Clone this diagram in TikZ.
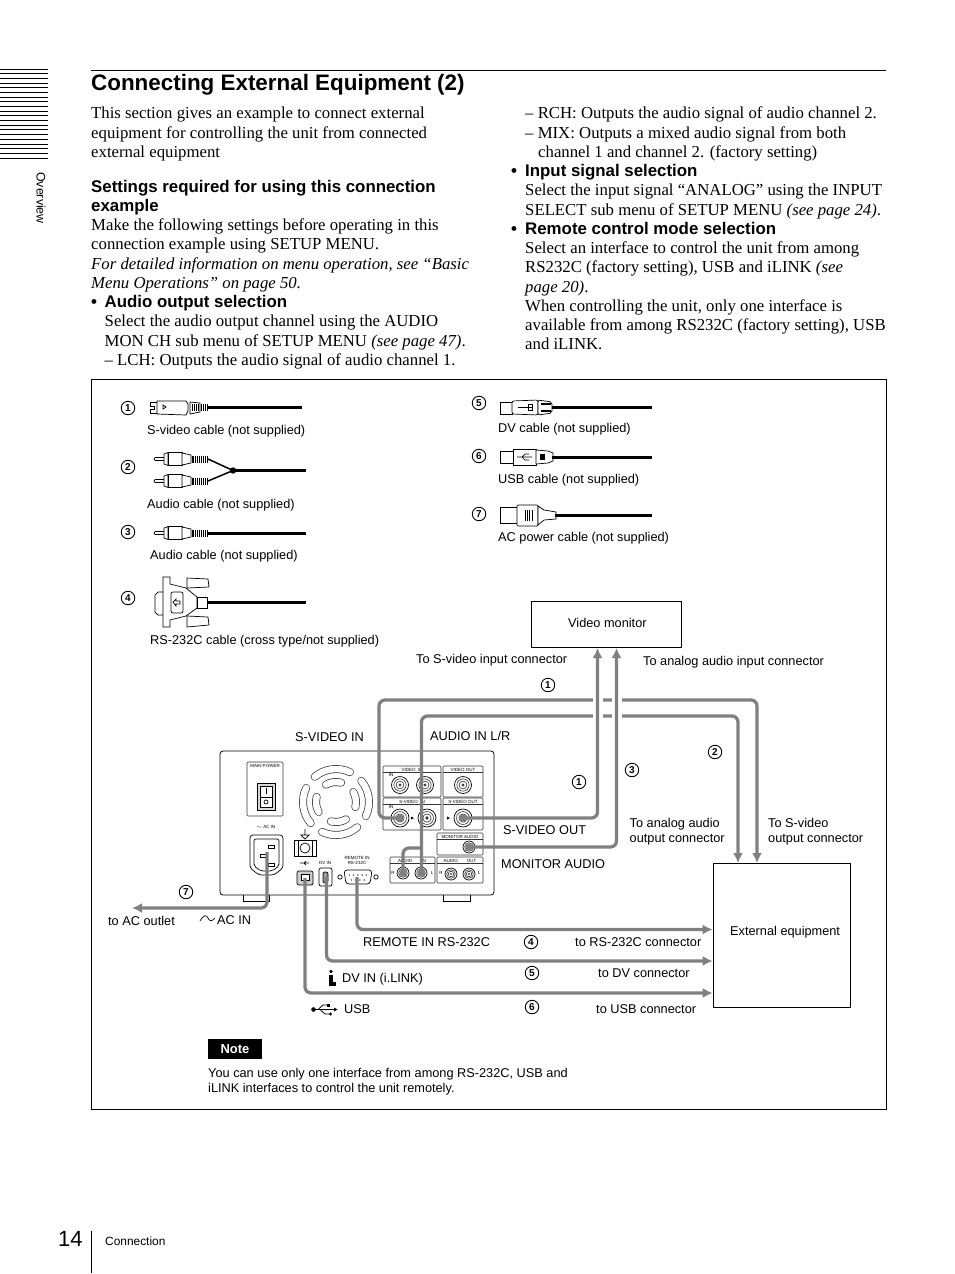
\documentclass[tikz,border=0pt]{standalone}
\usepackage{fontspec}
\setmainfont{Liberation Serif}
\setsansfont{Liberation Sans}
\usetikzlibrary{arrows.meta,positioning,shapes.geometric}
\newcommand{\labfont}{\sffamily\fontsize{12.75}{14.8}\selectfont}
\newcommand{\tinyfont}{\sffamily\fontsize{4.5}{5}\selectfont}
\newcommand{\subhd}[1]{{\sffamily\bfseries\fontsize{16.85}{19.25}\selectfont #1}}
\tikzset{
  lab/.style={anchor=base west,inner sep=0pt,font=\labfont},
  num/.style={draw=black,circle,line width=0.9pt,inner sep=0pt,minimum size=13.5pt,font=\sffamily\bfseries\fontsize{10}{10}\selectfont},
  cable/.style={draw=black!50,line width=3.3pt,rounded corners=6pt},
  cablearrow/.style={cable,-{Latex[length=10pt,width=10pt]}},
  cablegap/.style={draw=white,line width=10pt},
  blackcord/.style={draw=black,line width=2.6pt},
  eqbox/.style={draw=black,line width=0.6pt},
  panel/.style={draw=black!80,line width=0.6pt,rounded corners=1pt},
  thin part/.style={draw=black,line width=0.7pt},
  fanslot/.style={draw=black!80,line width=0.7pt,double=white,double distance=6.5pt,line cap=round},
  paneltxt/.style={inner sep=0pt,font=\tinyfont}
}
% one round socket on the rear panel
\newcommand{\portjack}[3]{
  \draw[thin part,fill=white] (#1,#2) circle (#3);
  \draw[draw=black!80,line width=0.6pt] (#1,#2) circle (#3*0.72);
  \draw[draw=black!80,line width=0.6pt] (#1,#2) circle (#3*0.46);
  \fill[black!75] (#1,#2) circle (#3*0.2);
}
% phono plug, cable end on the right
\newcommand{\rcaplug}[2]{
  \draw[thin part] (#1,#2-1.5) -- (#1+9,#2-1.5) (#1,#2+1.5) -- (#1+9,#2+1.5) (#1,#2-1.5) -- (#1-1,#2) -- (#1,#2+1.5);
  \draw[thin part,fill=white] (#1+9,#2-5) -- (#1+13,#2-6.5) -- (#1+13,#2+6.5) -- (#1+9,#2+5) -- cycle;
  \draw[thin part,fill=white] (#1+13,#2-6.5) rectangle (#1+27,#2+6.5);
  \draw[thin part,fill=white] (#1+27,#2-6) -- (#1+36,#2-4) -- (#1+36,#2+4) -- (#1+27,#2+6) -- cycle;
  \foreach \k in {0,...,8} \draw[line width=1pt] (#1+37+1.9*\k,#2-3.5) -- (#1+37+1.9*\k,#2+3.5);
}
\begin{document}
\begin{tikzpicture}[x=1pt,y=-1pt,>=Latex]
\useasboundingbox (0,0) rectangle (954,1274);
% margin tab
\foreach \yy in {0,...,19} \draw[black,line width=0.7pt] (0,69+4.68*\yy) -- (48,69+4.68*\yy);
\node[rotate=-90,inner sep=0pt,font=\sffamily\fontsize{12.4}{13}\selectfont] (tab_name) at (41,198) {Overview};
% heading and text columns
\draw[black,line width=0.7pt] (91,70) -- (886,70);
\node[anchor=base west,inner sep=0pt,font=\sffamily\bfseries\fontsize{22.4}{26}\selectfont] (title) at (91,90) {Connecting External Equipment (2)};
\node[anchor=north west,inner sep=0pt,align=left,font=\fontsize{16.75}{19.25}\selectfont] (col_left) at (91,107) {This section gives an example to connect external\\equipment for controlling the unit from connected\\external equipment\\[15.6pt]
\subhd{Settings required for using this connection}\\\subhd{example}\\Make the following settings before operating in this\\connection example using SETUP MENU.\\\textit{For detailed information on menu operation, see ``Basic}\\\textit{Menu Operations'' on page 50.}\\\makebox[13.5pt][l]{\subhd{•}}\subhd{Audio output selection}\\\hspace*{13.5pt}Select the audio output channel using the AUDIO\\\hspace*{13.5pt}MON CH sub menu of SETUP MENU \textit{(see page 47)}.\\\hspace*{13.5pt}– LCH: Outputs the audio signal of audio channel 1.};
\node[anchor=north west,inner sep=0pt,align=left,font=\fontsize{16.75}{19.25}\selectfont] (col_right) at (511,107) {\hspace*{14pt}– RCH: Outputs the audio signal of audio channel 2.\\\hspace*{14pt}– MIX: Outputs a mixed audio signal from both\\\hspace*{27pt}channel 1 and channel 2. (factory setting)\\\makebox[14pt][l]{\subhd{•}}\subhd{Input signal selection}\\\hspace*{14pt}Select the input signal ``ANALOG'' using the INPUT\\\hspace*{14pt}SELECT sub menu of SETUP MENU \textit{(see page 24)}.\\\makebox[14pt][l]{\subhd{•}}\subhd{Remote control mode selection}\\\hspace*{14pt}Select an interface to control the unit from among\\\hspace*{14pt}RS232C (factory setting), USB and iLINK \textit{(see}\\\hspace*{14pt}\textit{page 20)}.\\\hspace*{14pt}When controlling the unit, only one interface is\\\hspace*{14pt}available from among RS232C (factory setting), USB\\\hspace*{14pt}and iLINK.};
% frame
\draw[black,line width=0.6pt] (91,379) rectangle (886,1109);
% cable legend, left
\node[num] (n_one) at (128,408) {1};
\node[num] (n_two) at (128,467) {2};
\node[num] (n_three) at (128,532) {3};
\node[num] (n_four) at (128,598) {4};
\node[lab] (l_svideo) at (147,434) {S-video cable (not supplied)};
\node[lab] (l_audio_a) at (147,508) {Audio cable (not supplied)};
\node[lab] (l_audio_b) at (150,559) {Audio cable (not supplied)};
\node[lab] (l_rs) at (150,644) {RS-232C cable (cross type/not supplied)};
% S-video plug
\draw[thin part] (157,402) -- (150,402) -- (150,406) -- (154,406) -- (154,409) -- (150,409) -- (150,413) -- (157,413);
\draw[thin part,fill=white] (157,401) -- (186,401) -- (188,404) -- (188,411) -- (186,415) -- (157,414) -- cycle;
\draw[thin part] (163,405) -- (166,407) -- (163,409) -- cycle;
\draw[thin part,fill=white] (190,402) -- (200,403) -- (200,412) -- (190,414) -- cycle;
\foreach \k in {1,...,8} \draw[line width=1pt] (190+2.2*\k,404) -- (190+2.2*\k,411);
\draw[blackcord] (208,407.5) -- (302,407.5);
% phono plugs
\rcaplug{155}{459}
\rcaplug{155}{481}
\rcaplug{155}{533}
\coordinate (y_joint) at (233,470.5);
\draw[line width=1.5pt] (208,459) -- (y_joint) (208,481) -- (y_joint);
\fill (y_joint) circle (3.2);
\draw[blackcord] (y_joint) -- (306,470.5);
\draw[blackcord] (208,533.5) -- (306,533.5);
% D-sub plug
\draw[thin part,fill=white] (187,578) -- (208,579) -- (209,587) -- (187,588) -- cycle;
\draw[thin part,fill=white] (187,616) -- (208,617) -- (209,625) -- (187,627) -- cycle;
\draw[thin part,fill=white] (158,592) -- (164,592) -- (164,615) -- (158,615) -- (155,612) -- (155,595) -- cycle;
\draw[thin part,fill=white] (163,577) -- (170,577) -- (170,584) -- (186,588) -- (197,597) -- (197,608) -- (186,616) -- (170,620) -- (170,627) -- (163,627) -- cycle;
\draw[thin part,rounded corners=2pt] (171,592) -- (183,592) -- (183,613) -- (171,613) -- cycle;
\draw[thin part] (173,602) -- (176,599) -- (176,601) -- (180,601) -- (180,604) -- (176,604) -- (176,606) -- cycle;
\draw[thin part,fill=white] (197,597) rectangle (207,608);
\draw[blackcord] (207,602.5) -- (306,602.5);
% cable legend, right
\node[num] (n_five) at (479,403) {5};
\node[num] (n_six) at (479,456) {6};
\node[num] (n_seven) at (479,514) {7};
\node[lab] (l_dv) at (498,432) {DV cable (not supplied)};
\node[lab] (l_usb) at (498,483) {USB cable (not supplied)};
\node[lab] (l_ac) at (498,541) {AC power cable (not supplied)};
% DV plug
\draw[thin part] (500,402) rectangle (512,414);
\draw[thin part,fill=white,rounded corners=2pt] (512,401) -- (538,400) -- (538,415) -- (512,414) -- cycle;
\draw[thin part] (518,407) -- (532,407) (528,404) rectangle (532,410);
\draw[thin part,fill=white,rounded corners=2pt] (538,400) -- (552,402) -- (552,413) -- (538,415) -- cycle;
\draw[line width=1.5pt] (541,404) -- (551,404) (541,411) -- (551,411);
\draw[blackcord] (552,407.5) -- (652,407.5);
% USB plug
\draw[thin part] (500,451) rectangle (513,463);
\draw[thin part,fill=white] (513,449) rectangle (536,465);
\draw[thin part,fill=white] (536,450) -- (548,451) -- (553,453) -- (553,461) -- (548,463) -- (536,464) -- cycle;
\draw[thin part] (517,457) -- (532,457) (522,457) -- (525,454) -- (529,454) (522,457) -- (525,460) -- (529,460);
\fill (540,454) rectangle (545,460);
\draw[blackcord] (552,457.5) -- (652,457.5);
% AC plug
\draw[thin part] (500,507) -- (518,507) (500,507) -- (500,523) -- (518,523);
\draw[thin part,fill=white,rounded corners=1pt] (517,505) rectangle (538,526);
\foreach \k in {0,...,3} \draw[line width=0.8pt] (525+2.4*\k,510) -- (525+2.4*\k,521);
\draw[thin part,fill=white] (538,506) -- (544,510) -- (556,512) -- (556,519) -- (544,520) -- (538,525) -- cycle;
\draw[blackcord] (555,515.5) -- (652,515.5);
% boxes at the ends of the cables
\node[eqbox,minimum width=150pt,minimum height=46pt] (box_monitor) at (606,624) {};
\node[eqbox,minimum width=137pt,minimum height=144pt] (box_ext) at (781.5,935) {};
\node[lab] (l_monitor) at (568,627) {Video monitor};
\node[lab] (l_ext) at (730,935) {External equipment};
% rear panel of the unit
\draw[black,line width=0.8pt,rounded corners=3pt] (220,751) rectangle (494,895);
\draw[black,line width=0.6pt] (243,895) -- (243,901) -- (269,901) -- (269,895) (443,895) -- (443,901) -- (470,901) -- (470,895);
\draw[panel] (247,762) rectangle (283,816);
\node[paneltxt] (p_power) at (265,765.5) {MAIN POWER};
\draw[thin part,fill=black!15] (257,783) rectangle (275,810);
\draw[thin part,fill=white] (260,786) rectangle (272,797);
\draw[thin part,fill=white] (260,797) rectangle (272,807);
\draw[thin part] (266,788) -- (266,794);
\draw[thin part] (266,802) circle (2);
% fan
\begin{scope}[shift={(336,802)}]
\foreach \a in {10,100,190,280}{
  \begin{scope}[rotate=\a]
  \draw[fanslot] (-30:33) arc (-30:35:33);
  \draw[fanslot] (-20:20) arc (-20:25:20);
  \end{scope}
}
\end{scope}
% connector groups
\draw[panel] (383,766) rectangle (441,797);
\draw[panel] (443,766) rectangle (483,797);
\draw[panel] (383,798) rectangle (441,830);
\draw[panel] (443,798) rectangle (483,830);
\draw[panel] (437,833) rectangle (483,855);
\draw[panel] (390,857) rectangle (435,883);
\draw[panel] (437,857) rectangle (483,883);
\draw[draw=black!80,line width=0.5pt] (383,772) -- (441,772) (443,772) -- (483,772) (383,804) -- (441,804) (443,804) -- (483,804) (437,839) -- (483,839) (390,863) -- (435,863) (437,863) -- (483,863);
\node[paneltxt] (p_vin) at (412,769.5) {VIDEO\ \ IN};
\node[paneltxt] (p_vout) at (463,769.5) {VIDEO OUT};
\node[paneltxt] (p_sin) at (412,801.5) {S-VIDEO\ \ IN};
\node[paneltxt] (p_sout) at (463,801.5) {S-VIDEO OUT};
\node[paneltxt] (p_mon) at (460,836.5) {MONITOR AUDIO};
\node[paneltxt] (p_ain) at (412,860.5) {AUDIO\quad\quad IN};
\node[paneltxt] (p_aout) at (460,860.5) {AUDIO\quad\quad OUT};
\node[paneltxt] (p_in_a) at (391,775) {IN};
\node[paneltxt] (p_in_b) at (391,807) {IN};
\node[paneltxt] (p_r_a) at (393,873) {R};
\node[paneltxt] (p_l_a) at (432,873) {L};
\node[paneltxt] (p_r_b) at (441,873) {R};
\node[paneltxt] (p_l_b) at (479,873) {L};
\portjack{400}{785}{8.5}
\portjack{425}{785}{8.5}
\portjack{463}{785}{8.5}
\portjack{400}{818}{9}
\portjack{427}{818}{9}
\portjack{463}{818}{9}
\portjack{469}{847}{6}
\portjack{403}{873}{6}
\portjack{421}{873}{6}
\portjack{451}{874}{6}
\portjack{469}{874}{6}
\fill (411,816.5) -- (414,818) -- (411,819.5) -- cycle (447,816.5) -- (450,818) -- (447,819.5) -- cycle;
% power inlet
\node[paneltxt] (p_acin) at (266,827) {$\sim$ AC IN};
\draw[thin part,fill=white,rounded corners=3pt] (250,835) -- (283,835) -- (283,868) -- (274,875) -- (259,875) -- (250,868) -- cycle;
\draw[thin part,rounded corners=2pt] (254,839) -- (279,839) -- (279,866) -- (272,871) -- (261,871) -- (254,866) -- cycle;
\draw[thin part] (268,845) rectangle (274,848) (260,854) rectangle (266,857) (268,863) rectangle (274,866);
% earth terminal
\draw[thin part,fill=white] (294,840) rectangle (316,856);
\draw[thin part] (298,840) -- (298,856) (312,840) -- (312,856);
\draw[thin part] (305,848) circle (5);
\draw[thin part] (305,829) -- (305,835) (301,835) -- (309,835) -- (305,839) -- cycle;
% usb, dv and remote sockets
\draw[thin part] (300,863) -- (309,863) (304,863) -- (306,861) (304,863) -- (306,865);
\draw[thin part,fill=black!20,rounded corners=2pt] (297,871) rectangle (313,885);
\draw[thin part,fill=white] (301,874) rectangle (309,880);
\node[paneltxt] (p_dv) at (325,863) {DV IN};
\draw[thin part,fill=white,rounded corners=2pt] (319,868) rectangle (332,886);
\draw[thin part,fill=black!40,rounded corners=2pt] (323,872) rectangle (328,883);
\node[paneltxt,align=center] (p_remote) at (357,860) {REMOTE IN\\RS-232C};
\draw[thin part,fill=white,rounded corners=3pt] (344,870) -- (372,870) -- (370,884) -- (346,884) -- cycle;
\draw[thin part] (340,877) circle (2.2) (376,877) circle (2.2);
\foreach \k in {0,...,4} \fill (349.5+4.2*\k,875) circle (0.7);
\foreach \k in {0,...,3} \fill (351.5+4.2*\k,880) circle (0.7);
% cable ends on the unit
\coordinate (j_svin) at (400,818);
\coordinate (j_svout) at (463,818);
\coordinate (j_mon) at (469,847);
\coordinate (j_ar) at (403,873);
\coordinate (j_al) at (421.5,873);
\coordinate (j_ac) at (267,852);
\coordinate (j_rs) at (357,877);
\coordinate (j_dv) at (326.5,877);
\coordinate (j_usb) at (305,878);
\coordinate (m_sv) at (597.5,648);
\coordinate (m_au) at (616.5,648);
\coordinate (x_au) at (738,863);
\coordinate (x_sv) at (757,863);
\coordinate (t_ac) at (132,908);
\coordinate (c_top) at (379,700);
\coordinate (c_aud) at (421.5,716);
% cables: the long runs first, then the two that cross them
\draw[cablearrow] (j_svin) -- (c_top |- j_svin) -- (c_top) -- (x_sv |- c_top) -- (x_sv);
\draw[cable] (j_ar) -- (j_ar |- 0,848) -- (j_al |- 0,848);
\draw[cablearrow] (j_al) -- (c_aud) -- (x_au |- c_aud) -- (x_au);
\draw[cablegap] (m_sv |- 0,692) -- (m_sv |- 0,724);
\draw[cablegap] (m_au |- 0,692) -- (m_au |- 0,724);
\draw[cablearrow] (j_svout) -- (m_sv |- j_svout) -- (m_sv);
\draw[cablearrow] (j_mon) -- (m_au |- j_mon) -- (m_au);
\draw[cablearrow] (j_ac) -- (j_ac |- t_ac) -- (t_ac);
\draw[cablearrow] (j_rs) |- (box_ext.west |- 0,929.5);
\draw[cablearrow] (j_dv) |- (box_ext.west |- 0,961);
\draw[cablearrow] (j_usb) |- (box_ext.west |- 0,993);
\foreach \j in {j_svin,j_svout,j_mon,j_ar,j_al} \fill[black!50] (\j) circle (3.6);
% labels around the unit
\node[lab] (l_sv_in) at (416,663) {To S-video input connector};
\node[lab] (l_an_in) at (643,665) {To analog audio input connector};
\node[lab] (l_svideoin) at (295,741) {S-VIDEO IN};
\node[lab] (l_audioin) at (430,740) {AUDIO IN L/R};
\node[lab] (l_svout) at (503,834) {S-VIDEO OUT};
\node[lab] (l_monaudio) at (501,868) {MONITOR AUDIO};
\node[lab,align=left] (l_an_out) at (629.5,842) {To analog audio\\output connector};
\node[lab,align=left] (l_sv_out) at (768,842) {To S-video\\output connector};
\node[lab] (l_outlet) at (108,925) {to AC outlet};
\node[lab] (l_acin) at (217,924) {AC IN};
\node[lab] (l_remote) at (363,946) {REMOTE IN RS-232C};
\node[lab] (l_to_rs) at (575,946) {to RS-232C connector};
\node[lab] (l_dvin) at (342,982) {DV IN (i.LINK)};
\node[lab] (l_to_dv) at (598,977) {to DV connector};
\node[lab] (l_usbin) at (344,1013) {USB};
\node[lab] (l_to_usb) at (596,1013) {to USB connector};
\node[num] (c_one_a) at (548,685) {1};
\node[num] (c_one_b) at (579,782) {1};
\node[num] (c_three) at (632,770) {3};
\node[num] (c_two) at (715,752) {2};
\node[num] (c_four) at (531,942) {4};
\node[num] (c_five) at (532,973) {5};
\node[num] (c_six) at (532,1007) {6};
\node[num] (c_seven) at (186,892) {7};
% small signs
\draw[black,line width=0.7pt] (200,921) .. controls (204,914) and (207,915) .. (208,918) .. controls (209,921) and (212,922) .. (215,918);
\fill (331,971.5) circle (1.8);
\fill (329,975) rectangle (333,986);
\fill (333,982) rectangle (335.5,986);
\fill (313.5,1009.5) circle (2.3);
\draw[black,line width=0.8pt] (313.5,1009.5) -- (336,1009.5);
\fill (337.5,1009.5) -- (334,1007.5) -- (334,1011.5) -- cycle;
\draw[black,line width=0.8pt] (318,1009.5) -- (323,1005) -- (327,1005) (320,1009.5) -- (325,1014) -- (329,1014);
\fill (327,1003.5) rectangle (330,1006.5);
\fill (330.5,1014) circle (1.6);
% note
\node[fill=black,text=white,inner sep=0pt,minimum width=54pt,minimum height=20pt,font=\sffamily\bfseries\fontsize{13}{15}\selectfont] (note_tag) at (235,1049) {Note};
\node[lab,align=left,anchor=north west] (note_txt) at (208,1068) {You can use only one interface from among RS-232C, USB and\\iLINK interfaces to control the unit remotely.};
% foot of the page
\node[anchor=base west,inner sep=0pt,font=\sffamily\fontsize{22}{24}\selectfont] (page_no) at (58,1246) {14};
\draw[black,line width=0.5pt] (91,1231) -- (91,1273);
\node[anchor=base west,inner sep=0pt,font=\sffamily\fontsize{11.9}{13}\selectfont] (foot_txt) at (105,1245) {Connection};
\end{tikzpicture}
\end{document}
